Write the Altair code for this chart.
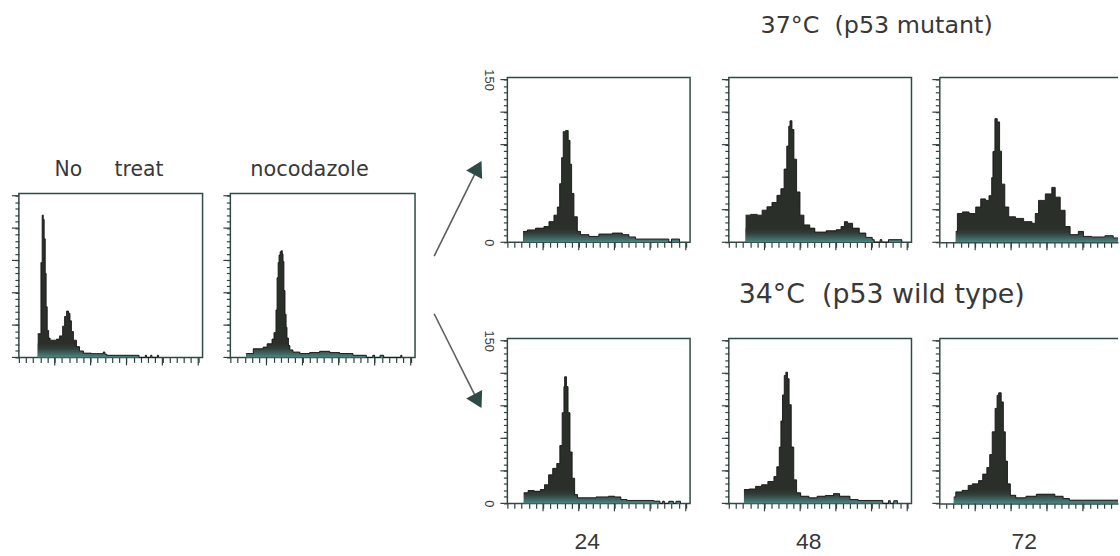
import altair as alt
import pandas as pd

# ---------------- values ----------------
# DNA-content histograms: channel (0-1024 scale) where each step starts, and the cell count of that step
notreat_ch = [105, 123, 130, 136, 141, 147, 152, 158, 166, 174, 210, 227, 244, 255, 266, 277, 285, 293, 304, 321,
              338, 360, 404, 470, 480, 490, 670, 705, 712, 735, 742, 772, 779]
notreat_n = [22, 88, 132, 128, 110, 78, 47, 25, 18, 16, 17, 20, 29, 38, 43, 41, 34, 24, 16, 10,
             6, 4, 3.5, 5, 3, 2, 0, 2, 0, 2, 0, 2, 0]

noco_ch = [88, 127, 182, 204, 231, 242, 253, 259, 265, 270, 276, 282, 288, 292, 297, 303, 309, 314, 322, 330,
           347, 385, 440, 495, 551, 606, 680, 754, 790, 800, 830, 850, 945, 951]
noco_n = [3.6, 8, 9.6, 12.6, 17, 23, 44, 74, 88, 95, 98, 99, 96, 89, 62, 40, 28, 18, 11, 7,
          5, 3.6, 4.5, 5.7, 4.5, 3.6, 2, 0, 2, 0, 2, 0, 2, 0]

m24_ch = [88, 112, 158, 205, 233, 261, 280, 293, 304, 313, 326, 341, 351, 360, 373, 392, 410, 457, 513, 588,
          644, 681, 718, 905, 920, 965]
m24_n = [10, 11.4, 13, 14.5, 19, 25, 32.5, 54, 78, 102, 103, 94, 72, 45, 23.5, 10, 7, 5.4, 7.6, 8.5,
         7, 4.9, 3, 0, 3, 0]

m48_ch = [94, 122, 159, 187, 214, 242, 270, 292, 310, 325, 336, 343, 354, 365, 380, 399, 421, 454, 482, 546,
          602, 629, 648, 666, 694, 731, 768, 804, 815, 848, 858, 895, 970]
m48_n = [25, 25.7, 25, 29.6, 32.7, 36.7, 43.3, 49.4, 67.5, 88.7, 107, 112, 104, 76.6, 46.4, 25, 16, 13, 9.4, 10.5,
         11.5, 14.5, 19, 17.5, 13, 8.5, 4.5, 2.4, 0, 2.4, 0, 2.4, 0]

m72_ch = [92, 101, 129, 166, 203, 231, 258, 277, 292, 299, 310, 323, 336, 347, 365, 387, 425, 470, 516, 535,
          553, 591, 627, 646, 674, 701, 729, 775, 803, 849, 923, 969, 996]
m72_n = [10, 26.5, 28, 26.5, 32.5, 40, 38.6, 43, 59.6, 83.7, 114, 111, 84, 53.6, 32.5, 23.5, 22, 19, 17.5, 26.5,
         38.6, 44.6, 50.6, 41.6, 29.5, 14.5, 7, 10, 5.4, 4.9, 6, 4, 4]

w24_ch = [92, 116, 150, 185, 208, 231, 254, 277, 294, 307, 317, 321, 331, 340, 351, 363, 377, 393, 451, 497,
          566, 601, 636, 670, 821, 855, 870, 880, 905, 930, 945, 970]
w24_n = [9.7, 11.8, 11.2, 12.7, 17.2, 26.3, 32.3, 36.8, 53.4, 83.6, 107.7, 116.8, 107.7, 83.6, 47.4, 23.2, 8.1, 5.1, 5.1, 6,
         6.6, 6, 3.6, 2.7, 2.1, 0, 2, 0, 2, 0, 2, 0]

w48_ch = [85, 115, 150, 184, 219, 253, 269, 283, 292, 301, 311, 320, 329, 338, 350, 364, 380, 403, 449, 495,
          541, 587, 621, 679, 725, 863, 895, 905, 925, 945]
w48_n = [12.7, 13.3, 15.7, 17.2, 20.2, 24.7, 33.8, 51.9, 76, 100, 118, 121, 115, 91, 52, 21.7, 9.7, 6.6, 5.1, 6.6,
         7.2, 9, 6.6, 3.6, 2.7, 0, 2.5, 0, 2.5, 0]

w72_ch = [81, 92, 127, 161, 184, 219, 242, 265, 281, 295, 311, 322, 331, 345, 357, 368, 380, 396, 426, 483,
          541, 598, 644, 690, 725, 996]
w72_n = [6, 10.6, 12, 16.6, 18, 21, 27, 33, 45, 66, 87.6, 99.7, 102, 93.6, 66, 39, 18, 7.5, 5.1, 6.6,
         8.5, 8.5, 6.6, 4.5, 3, 3]

# texts
title_notreat = "No\u00a0\u00a0\u00a0\u00a0\u00a0treat"
title_noco = "nocodazole"
title_37 = "37°C\u00a0\u00a0(p53 mutant)"
title_34 = "34°C\u00a0\u00a0(p53 wild type)"
hour_labels = ["24", "48", "72"]
y_max_count = 150
x_tick_values = list(range(0, 1001, 40))
x_major_values = list(range(200, 1001, 200))
y_tick_values = list(range(0, 151, 6))
y_major_values = list(range(0, 151, 30))

# arrows (annotation, in figure pixel units)
arrow_tail_x = [432, 432]
arrow_tail_y = [257, 315]
arrow_head_x = [476, 476]
arrow_head_y = [168, 403]
arrow_head_angle = [28, 152]

# ---------------- style / layout ----------------
FONT = "Liberation Sans"
TFONT = "DejaVu Sans"
INK = "#383838"
FRAME = "#2f4a47"
TICK = "#34403e"
FILL = "#2b2f29"
TEAL = "#4b8582"
OUTLINE = "#141614"
BAND = 13

TOP = 11            # top padding (above the highest title)
FA = 77             # y of the top-right frames (origin of the top row)
LEFT = 10
HS = 80.7           # spacer above the left pair
W_L, H_L, GAP_L = 185, 165, 28
W_R, W_C, H_R = 184, 180, 166
GAP_1, GAP_2, ROW_GAP = 39, 28, 97
SPACING = -9
AX0 = LEFT + 7 + W_L + GAP_L + W_L + 1 + 6.75 + SPACING
AW, AH = 74, 360

GRAD = alt.Gradient(
    gradient="linear",
    stops=[alt.GradientStop(color=FILL, offset=0),
           alt.GradientStop(color="#2f3d38", offset=0.35),
           alt.GradientStop(color=TEAL, offset=1)],
    x1=0, x2=0, y1=0, y2=1)


def x_axis(xmax, open_right, title="", title_x=81):
    kw = dict(values=[v for v in x_tick_values if v <= xmax], labels=False, grid=False, ticks=True,
              tickColor=TICK, tickWidth=1.2, tickSize=5, domain=open_right, title=title)
    if open_right:
        kw.update(domainColor=FRAME, domainWidth=1.5)
    if title:
        kw.update(titleX=title_x, titleY=45, titleAlign="center", titleBaseline="alphabetic", titleFont=FONT,
                  titleFontSize=23, titleFontWeight="normal", titleColor=INK, titleAngle=0)
    return alt.Axis(**kw)


def y_axis(labels, open_right):
    kw = dict(values=y_tick_values, grid=False, ticks=True, tickColor=TICK, tickWidth=1.2, tickSize=4,
              domain=open_right, title="")
    if open_right:
        kw.update(domainColor=FRAME, domainWidth=1.5)
    if labels:
        kw.update(labels=True,
                  labelExpr=f"datum.value === {y_max_count} || datum.value === 0 ? datum.label : ''",
                  labelAngle=90, labelAlign="center", labelBaseline="top", labelFont=FONT,
                  labelFontSize=13, labelColor=INK, labelPadding=9, labelOverlap=False)
    else:
        kw.update(labels=False)
    return alt.Axis(**kw)


def panel(ch, n, width, height, xmax=1024, ylabels=False, open_right=False,
          title=None, title_dx=0, title_off=0, title_dy=0, title_size=20, xtitle="", xtitle_x=81):
    df = pd.DataFrame({"ch": ch, "n": n})
    xs = alt.Scale(domain=[0, xmax], nice=False, zero=False)
    ys = alt.Scale(domain=[0, 152], nice=False)
    xa = x_axis(xmax, open_right, xtitle, xtitle_x)
    ya = y_axis(ylabels, open_right)
    base = alt.Chart(df)
    body = base.mark_area(interpolate="step-after", fill=FILL).encode(
        x=alt.X("ch:Q", scale=xs, axis=xa), y=alt.Y("n:Q", scale=ys, axis=ya))
    band = base.transform_calculate(nb=f"min(datum.n, {BAND})").mark_area(
        interpolate="step-after", fill=GRAD).encode(
        x=alt.X("ch:Q", scale=xs, axis=xa), y=alt.Y("nb:Q", scale=ys, axis=ya))
    outline = base.mark_line(interpolate="step-after", color=OUTLINE, strokeWidth=0.9).encode(
        x=alt.X("ch:Q", scale=xs, axis=xa), y=alt.Y("n:Q", scale=ys, axis=ya))
    xmaj = alt.Chart(pd.DataFrame({"v": [v for v in x_major_values if v <= xmax]})).mark_rule(
        color=TICK, strokeWidth=1.2).encode(
        x=alt.X("v:Q", scale=xs, axis=xa), y=alt.value(height), y2=alt.value(height + 8))
    ymaj = alt.Chart(pd.DataFrame({"v": y_major_values})).mark_rule(
        color=TICK, strokeWidth=1.2).encode(
        y=alt.Y("v:Q", scale=ys, axis=ya), x=alt.value(-7), x2=alt.value(0))
    layers = [body, band, outline, xmaj, ymaj]
    if open_right:
        top = alt.Chart(pd.DataFrame({"v": [0]})).mark_rule(color=FRAME, strokeWidth=1.5).encode(
            x=alt.value(0), x2=alt.value(width), y=alt.value(0))
        layers.append(top)
    props = dict(width=width, height=height)
    if open_right:
        props["view"] = alt.ViewBackground(strokeOpacity=0)
    if title:
        props["title"] = alt.TitleParams(text=title, anchor="start", frame="group", dx=title_dx,
                                         dy=title_dy, offset=title_off, font=TFONT, fontSize=title_size,
                                         fontWeight="normal", color=INK, baseline="alphabetic")
    return alt.layer(*layers).properties(**props)


def spacer(w, h):
    return alt.Chart(pd.DataFrame({"v": [0]})).mark_point(opacity=0, size=1).encode(
        x=alt.value(0), y=alt.value(0)).properties(width=w, height=h, view=alt.ViewBackground(strokeOpacity=0))


p1 = panel(notreat_ch, notreat_n, W_L, H_L, title=title_notreat, title_dx=36, title_off=0, title_dy=3.2,
           title_size=20.5)
p2 = panel(noco_ch, noco_n, W_L + 1, H_L, title=title_noco, title_dx=20, title_off=0, title_dy=3.7,
           title_size=21)
left_row = alt.hconcat(p1, p2, spacing=GAP_L, bounds="flush")
left = alt.vconcat(spacer(1, HS), left_row, spacing=0)

arrow_df = pd.DataFrame({"x0": arrow_tail_x, "y0": arrow_tail_y, "x1": arrow_head_x,
                         "y1": arrow_head_y, "ang": arrow_head_angle})
axs = alt.Scale(domain=[AX0, AX0 + AW], nice=False, zero=False)
ays = alt.Scale(domain=[FA, FA + AH], nice=False, zero=False, reverse=True)
shafts = alt.Chart(arrow_df).mark_rule(color="#5a5f5e", strokeWidth=1.6).encode(
    x=alt.X("x0:Q", scale=axs, axis=None), y=alt.Y("y0:Q", scale=ays, axis=None),
    x2="x1:Q", y2="y1:Q")
heads = alt.Chart(arrow_df).mark_point(shape="triangle-up", filled=True, size=330, color="#2c4a46",
                                       opacity=1).encode(
    x=alt.X("x1:Q", scale=axs, axis=None), y=alt.Y("y1:Q", scale=ays, axis=None),
    angle=alt.Angle("ang:Q", scale=alt.Scale(domain=[0, 360], range=[0, 360])))
arrows = alt.layer(shafts, heads).properties(width=AW, height=AH, view=alt.ViewBackground(strokeOpacity=0))

pa = panel(m24_ch, m24_n, W_R, H_R, ylabels=True)
pb = panel(m48_ch, m48_n, W_R, H_R, title=title_37, title_dx=32, title_off=21, title_size=24)
pc = panel(m72_ch, m72_n, W_C, H_R, xmax=996, open_right=True)
pd_ = panel(w24_ch, w24_n, W_R, H_R, ylabels=True, xtitle=hour_labels[0], xtitle_x=80)
pe = panel(w48_ch, w48_n, W_R, H_R, title=title_34, title_dx=10, title_off=9, title_size=27,
           xtitle=hour_labels[1], xtitle_x=80)
pf = panel(w72_ch, w72_n, W_C, H_R, xmax=996, open_right=True, xtitle=hour_labels[2], xtitle_x=85)

right = alt.concat(
    pa, spacer(GAP_1, 1), pb, spacer(GAP_2, 1), pc,
    spacer(1, ROW_GAP), spacer(1, ROW_GAP), spacer(1, ROW_GAP), spacer(1, ROW_GAP), spacer(1, ROW_GAP),
    pd_, spacer(GAP_1, 1), pe, spacer(GAP_2, 1), pf,
    columns=5, spacing=0, bounds="flush", align="each")

chart = alt.hconcat(left, arrows, right, spacing=SPACING).properties(
    padding={"left": LEFT, "top": TOP, "right": 0, "bottom": 0},
    background="white",
).configure(font=FONT).configure_view(stroke=FRAME, strokeWidth=1.5)

chart.save("out.html", embed_options={"renderer": "svg", "actions": False})
